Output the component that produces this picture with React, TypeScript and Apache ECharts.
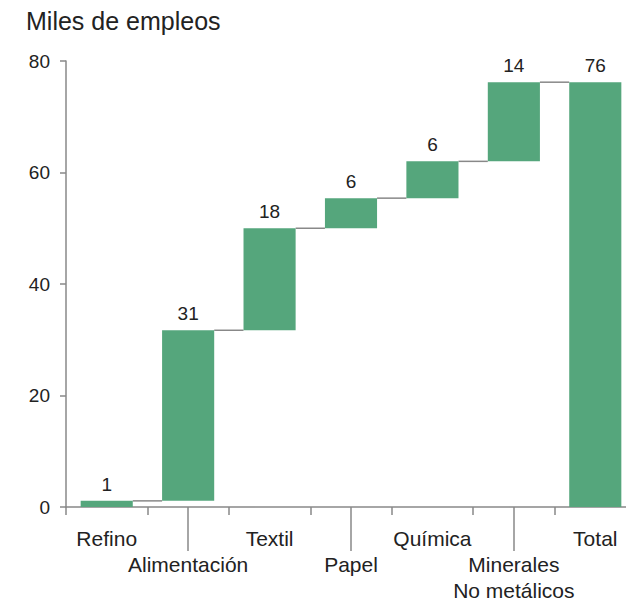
import React, { useEffect, useRef } from "react";
import * as echarts from "echarts";

const categories = ["Refino", "Alimentación", "Textil", "Papel", "Química", "Minerales\nNo metálicos", "Total"];
const deltas = [1.1, 30.6, 18.3, 5.4, 6.6, 14.2];
const valueLabels = ["1", "31", "18", "6", "6", "14", "76"];
const yTicks = [0, 20, 40, 60, 80];

export default function App() {
  const ref = useRef<HTMLDivElement>(null);
  useEffect(() => {
    if (!ref.current) return;
    document.body.style.overflow = "hidden";
    const chart = echarts.init(ref.current, null, { renderer: "svg" });
    const bases: number[] = [];
    const tops: number[] = [];
    let acc = 0;
    deltas.forEach((d) => {
      bases.push(acc);
      acc += d;
      tops.push(acc);
    });
    const total = acc;
    const baseData = [...bases, 0];
    const valData = [...deltas, total];
    const connectors = tops.map((t, i) => [i, t]);
    const font = "Liberation Sans, Arial, sans-serif";
    const BAR_FRAC = 0.64;
    chart.setOption({
      animation: false,
      title: {
        text: "Miles de empleos",
        left: 21,
        top: 3,
        textStyle: { fontFamily: font, fontSize: 25, fontWeight: "normal", color: "#222" },
      },
      grid: { left: 66, top: 61, width: 570, height: 448, containLabel: false },
      xAxis: [
        {
          type: "category",
          data: categories,
          axisLine: { show: true, lineStyle: { color: "#888", width: 1.5 } },
          axisTick: { show: true, alignWithLabel: false, interval: 0, length: 8, lineStyle: { color: "#888", width: 1.5 } },
          axisLabel: {
            interval: 0,
            margin: 18,
            fontFamily: font,
            fontSize: 21,
            color: "#222",
            lineHeight: 26,
            formatter: (v: string, i: number) => (i % 2 === 1 ? "\n" + v : v),
          },
        },
        {
          type: "category",
          data: categories,
          position: "bottom",
          gridIndex: 0,
          axisLine: { show: false },
          axisLabel: { show: false },
          axisTick: {
            show: true,
            alignWithLabel: true,
            interval: (i: number) => i % 2 === 1,
            length: 44,
            lineStyle: { color: "#888", width: 1.5 },
          },
        },
      ],
      yAxis: {
        type: "value",
        min: yTicks[0],
        max: yTicks[yTicks.length - 1],
        interval: 20,
        axisLine: { show: true, lineStyle: { color: "#888", width: 1.5 } },
        axisTick: { show: true, length: 6, lineStyle: { color: "#888", width: 1.5 } },
        axisLabel: { margin: 16, fontFamily: font, fontSize: 19, color: "#222" },
        splitLine: { show: false },
      },
      series: [
        {
          type: "bar",
          stack: "w",
          data: baseData,
          barWidth: "64%",
          itemStyle: { color: "transparent" },
          silent: true,
        },
        {
          type: "bar",
          stack: "w",
          data: valData,
          barWidth: "64%",
          itemStyle: { color: "#55a67c" },
          label: {
            show: true,
            position: "top",
            distance: 7,
            fontFamily: font,
            fontSize: 19,
            color: "#222",
            formatter: (p: any) => valueLabels[p.dataIndex],
          },
        },
        {
          type: "custom",
          data: connectors,
          z: 1,
          renderItem: (params: any, api: any) => {
            const p = api.coord([api.value(0), api.value(1)]);
            const band = api.size([1, 0])[0];
            const half = (band * BAR_FRAC) / 2;
            return {
              type: "line",
              shape: { x1: p[0] + half, y1: p[1], x2: p[0] + band - half, y2: p[1] },
              style: { stroke: "#888", lineWidth: 1.5 },
            };
          },
        },
      ],
    });
    return () => chart.dispose();
  }, []);
  return <div ref={ref} style={{ position: "fixed", left: 0, top: 0, width: 680, height: 603, background: "#fff" }} />;
}
